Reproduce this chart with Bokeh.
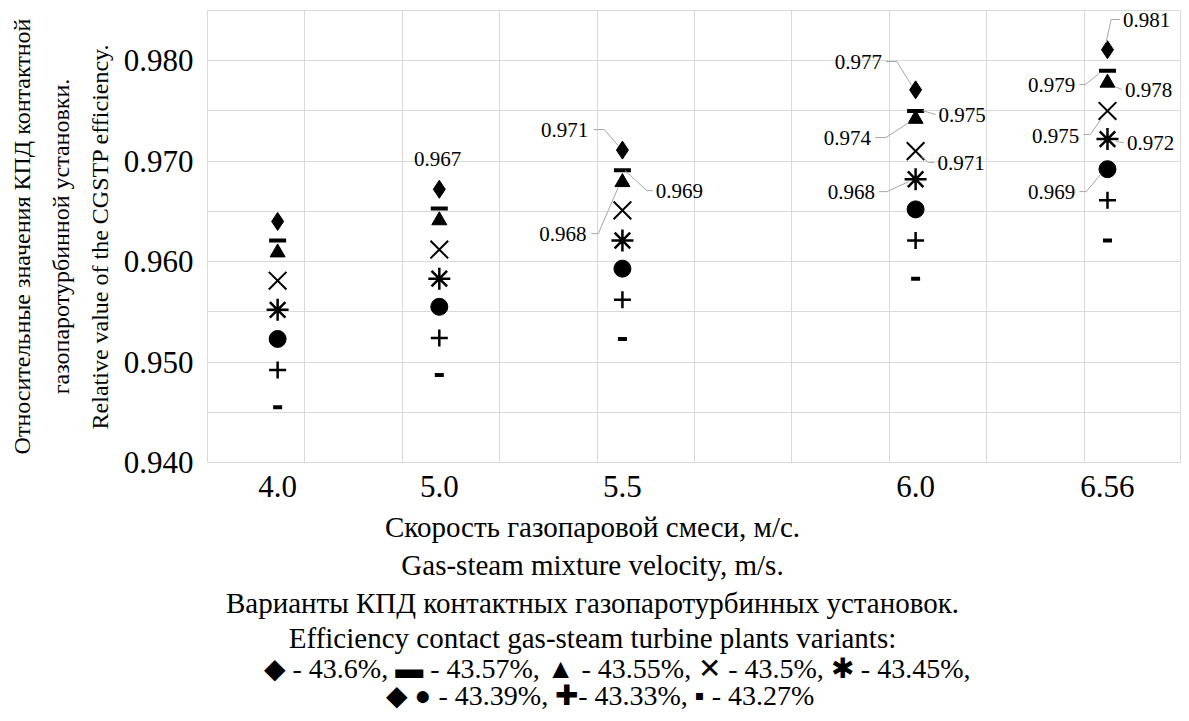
from bokeh.plotting import figure
from bokeh.models import FixedTicker, ColumnDataSource, Range1d
from bokeh.layouts import column
from bokeh.embed import file_html
from bokeh.resources import INLINE
from bokeh.core.properties import value

# ---------------- data ----------------
categories = ["4.0", "5.0", "5.5", "6.0", "6.56"]
series_names = ["43.6%", "43.57%", "43.55%", "43.5%", "43.45%", "43.39%", "43.33%", "43.27%"]
s_43_60 = [0.9640, 0.9672, 0.9711, 0.9771, 0.9811]
s_43_57 = [0.9621, 0.9653, 0.9691, 0.9750, 0.9790]
s_43_55 = [0.9609, 0.9641, 0.9679, 0.9742, 0.9778]
s_43_50 = [0.9581, 0.9612, 0.9651, 0.9710, 0.9750]
s_43_45 = [0.9552, 0.9583, 0.9621, 0.9682, 0.9722]
s_43_39 = [0.9523, 0.9555, 0.9593, 0.9652, 0.9692]
s_43_33 = [0.9492, 0.9524, 0.9562, 0.9621, 0.9661]
s_43_27 = [0.9455, 0.9487, 0.9523, 0.9583, 0.9621]
y_ticks = [0.940, 0.950, 0.960, 0.970, 0.980]

series = [s_43_60, s_43_57, s_43_55, s_43_50, s_43_45, s_43_39, s_43_33, s_43_27]

# ---------------- layout / style ----------------
cat_pos = [0.72, 2.38, 4.26, 7.27, 9.24]
FONT = "Liberation Serif"
W = 1181
FR_L, FR_T = 207, 10
FR_H = 452
MAIN_H = 505
X0, X1 = 0, 10
Y0, Y1 = 0.940, 0.985
GRID = "#d9d9d9"
LEAD = "#a6a6a6"

p = figure(width=W, height=MAIN_H, output_backend="svg", toolbar_location=None,
           x_range=Range1d(X0, X1), y_range=Range1d(Y0, Y1),
           min_border_left=FR_L, min_border_right=0, min_border_top=FR_T,
           min_border_bottom=MAIN_H - FR_T - FR_H)
p.background_fill_color = "white"
p.border_fill_color = "white"
p.outline_line_color = GRID

p.xgrid.ticker = FixedTicker(ticks=list(range(X0, X1 + 1)))
p.ygrid.ticker = FixedTicker(ticks=[round(0.940 + 0.005 * i, 3) for i in range(10)])
p.xgrid.grid_line_color = GRID
p.ygrid.grid_line_color = GRID

p.xaxis.ticker = FixedTicker(ticks=cat_pos)
p.xaxis.major_label_overrides = {c: t for c, t in zip(cat_pos, categories)}
p.yaxis.ticker = FixedTicker(ticks=y_ticks)
p.yaxis.major_label_overrides = {t: f"{t:.3f}" for t in y_ticks}
for ax in (p.xaxis, p.yaxis):
    ax.axis_line_color = None
    ax.major_tick_line_color = None
    ax.minor_tick_line_color = None
    ax.major_label_text_font = FONT
    ax.major_label_text_font_size = "31px"
    ax.major_label_text_color = "black"
p.xaxis.major_label_standoff = 7
p.yaxis.major_label_standoff = 8
p.yaxis.axis_label = ("Относительные значения КПД контактной\n"
                      "газопаротурбинной установки.\n"
                      "Relative value of the CGSTP efficiency.")
p.yaxis.axis_label_text_font = FONT
p.yaxis.axis_label_text_font_size = "24px"
p.yaxis.axis_label_text_line_height = 1.5
p.yaxis.axis_label_text_font_style = "normal"
p.yaxis.axis_label_text_color = "black"
p.yaxis.axis_label_standoff = 8

# markers
marker_style = [
    dict(marker="diamond", size=18, line_width=1),
    dict(marker="dash", size=17, line_width=4),
    dict(marker="triangle", size=15, line_width=1),
    dict(marker="x", size=25, line_width=2),
    dict(marker="asterisk", size=22, line_width=2.5),
    dict(marker="circle", size=17, line_width=1),
    dict(marker="cross", size=17, line_width=2.5),
    dict(marker="dash", size=9, line_width=4),
]
for vals, st in zip(series, marker_style):
    src = ColumnDataSource(dict(x=cat_pos, y=vals))
    p.scatter("x", "y", source=src, fill_color="black", line_color="black", **st)

# data labels (reference pixel positions converted to data coordinates)
def dx(px):
    return X0 + (px - 207) / 98.2

def dy(py):
    return Y1 - (py - 10) * (Y1 - Y0) / 451.7

labels = [
    # series, category, label x, label y, align, leader points
    (0, 1, 439, 158, "center", None),
    (0, 2, 591, 129, "right", [(596, 129), (607, 129), (621, 145)]),
    (1, 2, 659, 190, "left", [(656, 190), (650, 190), (628, 170)]),
    (2, 2, 589, 233, "right", [(594, 233), (601, 233), (621, 187)]),
    (0, 3, 887, 61, "right", [(891, 61), (902, 61), (917, 85)]),
    (1, 3, 944, 114, "left", [(928, 110), (941, 114)]),
    (2, 3, 876, 137, "right", [(880, 137), (891, 137), (914, 122)]),
    (3, 3, 943, 162, "left", [(927, 156), (934, 162), (940, 162)]),
    (4, 3, 880, 191, "right", [(884, 191), (892, 191), (914, 181)]),
    (0, 4, 1130, 19, "left", [(1113, 42), (1118, 19), (1127, 19)]),
    (1, 4, 1082, 84, "right", [(1086, 84), (1092, 84), (1106, 73)]),
    (2, 4, 1132, 89, "left", [(1122, 86), (1129, 89)]),
    (3, 4, 1086, 135, "right", [(1090, 134), (1097, 134), (1109, 117)]),
    (4, 4, 1134, 142, "left", [(1123, 141), (1131, 142)]),
    (5, 4, 1082, 191, "right", [(1086, 191), (1093, 191), (1108, 173)]),
]
lx, ly, lt, la = [], [], [], []
for si, ci, px, py, al, lead in labels:
    lx.append(dx(px)); ly.append(dy(py)); lt.append(f"{series[si][ci]:.3f}"); la.append(al)
    if lead:
        p.line([dx(a) for a, b in lead], [dy(b) for a, b in lead], line_color=LEAD, line_width=1)
p.text(x="x", y="y", text="t", text_align="a",
       source=ColumnDataSource(dict(x=lx, y=ly, t=lt, a=la)),
       text_font=value(FONT), text_font_size="21px", text_baseline="middle", text_color="black")

# ---------------- bottom captions (frame aligned with the chart frame) ----------------
BOT_H = 208
b = figure(width=W, height=BOT_H, output_backend="svg", toolbar_location=None,
           x_range=Range1d(FR_L, W), y_range=Range1d(BOT_H, 0),
           min_border_left=FR_L, min_border_right=0,
           min_border_top=0, min_border_bottom=0)
b.axis.visible = False
b.grid.visible = False
b.outline_line_color = None
b.background_fill_color = "white"
b.border_fill_color = "white"

x_title = ["Скорость газопаровой смеси, м/с.", "Gas-steam mixture velocity, m/s."]
legend_title = ["Варианты КПД контактных газопаротурбинных установок.",
                "Efficiency contact gas-steam turbine plants variants:"]
legend_row1 = "◆  - {}, ▬ - {}, ▲ - {}, ✕ - {}, ✱ - {},".format(*series_names[:5])
legend_row2 = "◆  ● - {}, ✚- {}, ▪ - {}".format(*series_names[5:])

title_src = ColumnDataSource(dict(x=[592, 592, 592, 592],
                                  y=[526 - MAIN_H, 564 - MAIN_H, 602 - MAIN_H, 637 - MAIN_H],
                                  t=x_title + legend_title))
b.text(x="x", y="y", text="t", source=title_src,
       text_font=value(FONT), text_font_size="29px", text_align="center",
       text_baseline="middle", text_color="black")
row_src = ColumnDataSource(dict(x=[620, 603], y=[668 - MAIN_H, 695 - MAIN_H],
                                t=[legend_row1, legend_row2]))
b.text(x="x", y="y", text="t", source=row_src,
       text_font=value(FONT), text_font_size="28px", text_align="center",
       text_baseline="middle", text_color="black")

layout = column(p, b, spacing=0)
open("out.html", "w").write(file_html(layout, INLINE))
